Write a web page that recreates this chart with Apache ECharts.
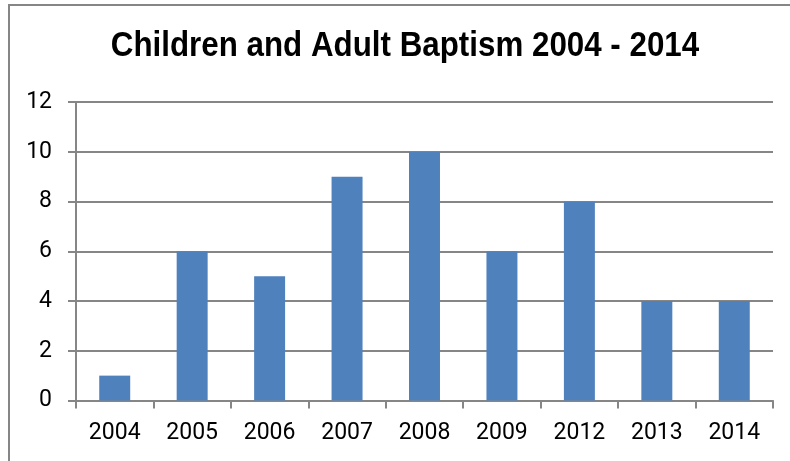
<!DOCTYPE html>
<html>
<head>
<meta charset="utf-8">
<script src="https://cdn.jsdelivr.net/npm/echarts@6/dist/echarts.min.js"></script>
<style>
  html, body { margin: 0; padding: 0; background: #ffffff; }
  #chart { width: 790px; height: 461px; }
</style>
</head>
<body>
<div id="chart"></div>
<script>
// Baptisms per year
const years = ['2004', '2005', '2006', '2007', '2008', '2009', '2012', '2013', '2014'];
const baptisms = [1, 6, 5, 9, 10, 6, 8, 4, 4];
const yTicks = { min: 0, max: 12, interval: 2 };
const titleText = 'Children and Adult Baptism 2004 - 2014';

const gray = '#868686';
const labelFont = 'Roboto, "Liberation Sans", sans-serif';

const chart = echarts.init(document.getElementById('chart'), null, { renderer: 'canvas' });
chart.setOption({
  backgroundColor: '#ffffff',
  animation: false,
  graphic: [{
    type: 'rect',
    shape: { x: 9, y: 5, width: 800, height: 480 },
    style: { fill: 'none', stroke: gray, lineWidth: 2 },
    silent: true
  }, {
    // condensed bold heading
    type: 'text',
    x: 405,
    y: 46,
    scaleX: 0.895,
    silent: true,
    style: {
      text: titleText,
      fill: '#000000',
      font: 'bold 35px "Liberation Sans", Arial, sans-serif',
      textAlign: 'center',
      textVerticalAlign: 'middle'
    }
  }],
  grid: { left: 76, right: 17, top: 102, bottom: 60.5 },
  xAxis: {
    type: 'category',
    data: years,
    axisLine: { lineStyle: { color: gray, width: 2 } },
    axisTick: { show: true, alignWithLabel: false, length: 8, lineStyle: { color: gray, width: 2 } },
    axisLabel: { color: '#000000', fontFamily: labelFont, fontSize: 23, margin: 21 }
  },
  yAxis: {
    type: 'value',
    min: yTicks.min,
    max: yTicks.max,
    interval: yTicks.interval,
    axisLine: { show: true, lineStyle: { color: gray, width: 2 } },
    axisTick: { show: true, length: 8, lineStyle: { color: gray, width: 2 } },
    axisLabel: { color: '#000000', fontFamily: labelFont, fontSize: 23, margin: 24 },
    splitLine: { show: true, lineStyle: { color: gray, width: 2 } }
  },
  series: [{
    type: 'bar',
    data: baptisms,
    barWidth: '40%',
    itemStyle: { color: '#4f81bd' }
  }]
});
</script>
</body>
</html>
